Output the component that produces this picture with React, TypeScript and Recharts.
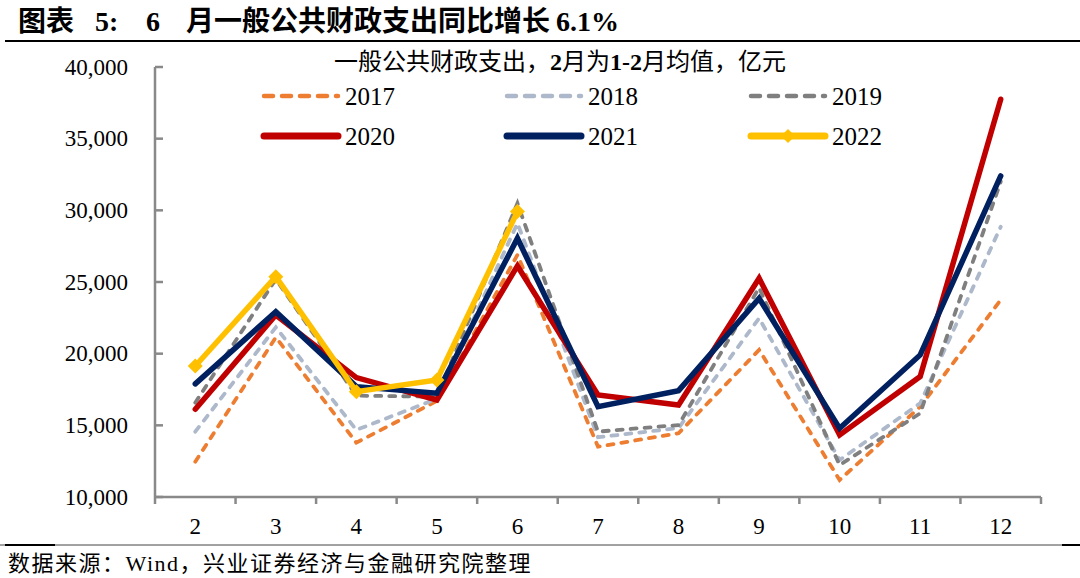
import React from 'react';
import { LineChart, Line, XAxis, YAxis } from 'recharts';

const months = [2, 3, 4, 5, 6, 7, 8, 9, 10, 11, 12];
const v2017 = [12460, 21140, 13790, 16700, 26890, 13510, 14450, 20260, 11190, 16300, 23750];
const v2018 = [14560, 21840, 14680, 16850, 29100, 14170, 14810, 22470, 12580, 16540, 28860];
const v2019 = [16580, 25200, 17070, 17000, 30490, 14560, 15020, 24600, 12230, 15840, 32000];
const v2020 = [16120, 22700, 18330, 16770, 26120, 17120, 16420, 25260, 14330, 18400, 37750];
const v2021 = [17890, 22930, 17700, 17240, 28050, 16300, 17420, 23860, 14790, 19910, 32400];
const v2022 = [19140, 25370, 17350, 18160, 29910];
const yTicks = [10000, 15000, 20000, 25000, 30000, 35000, 40000];

const titleParts = ['图表', '5:', '6', '月一般公共财政支出同比增长', '6.1%'];
const sourceText = '数据来源：Wind，兴业证券经济与金融研究院整理';

const seriesKeys = ['y2017', 'y2018', 'y2019', 'y2020', 'y2021', 'y2022'];
const seriesNames = ['2017', '2018', '2019', '2020', '2021', '2022'];
const seriesColors = ['#ED7D31', '#ADB9CA', '#7F7F7F', '#C00000', '#002060', '#FFC000'];
const seriesDashed = [true, true, true, false, false, false];

const data = months.map((m, i) => ({
  m,
  y2017: v2017[i],
  y2018: v2018[i],
  y2019: v2019[i],
  y2020: v2020[i],
  y2021: v2021[i],
  y2022: i < v2022.length ? v2022[i] : null,
}));

const boundaries = months.map((m) => m - 0.5).concat([months[months.length - 1] + 0.5]);
const xDomain: [number, number] = [boundaries[0], boundaries[boundaries.length - 1]];
const allXTicks = boundaries.concat(months).sort((a, b) => a - b);

const SERIF = '"Liberation Serif", "Times New Roman", "Noto Sans CJK SC", serif';
const AXIS = '#898989';

const Diamond = (props: any) => {
  const { cx, cy, payload } = props;
  if (cx == null || cy == null || payload == null || payload.y2022 == null) return null;
  const r = 7.5;
  return (
    <path
      d={`M${cx},${cy - r} L${cx + r},${cy} L${cx},${cy + r} L${cx - r},${cy} Z`}
      fill="#FFC000"
    />
  );
};

const YTick = (props: any) => {
  const { x, y, payload } = props;
  return (
    <g>
      <line x1={x + 27} x2={x + 35} y1={y} y2={y} stroke={AXIS} strokeWidth={2.5} />
      <text
        x={x}
        y={y}
        textAnchor="end"
        dominantBaseline="central"
        style={{ fontFamily: SERIF, fontSize: 23 }}
        fill="#000"
      >
        {Number(payload.value).toLocaleString('en-US')}
      </text>
    </g>
  );
};

const XTick = (props: any) => {
  const { x, y, payload } = props;
  const v = Number(payload.value);
  if (Number.isInteger(v)) {
    return (
      <text x={x} y={y + 21} textAnchor="middle" dy="0.71em" style={{ fontFamily: SERIF, fontSize: 23 }} fill="#000">
        {v}
      </text>
    );
  }
  return <line x1={x} x2={x} y1={y} y2={y + 7} stroke={AXIS} strokeWidth={2.5} />;
};

const legendCols = [262, 505, 749];
const legendRows = [96, 136];
const titleX = [18, 95, 146, 186, 556];

export default function App() {
  return (
    <div style={{ position: 'absolute', left: 0, top: 0, width: 1080, height: 578, background: '#fff' }}>
      <LineChart
        width={1080}
        height={578}
        data={data}
        margin={{ top: 67, right: 39, bottom: 30, left: 95 }}
      >
        <XAxis
          type="number"
          dataKey="m"
          domain={xDomain}
          ticks={allXTicks}
          interval={0}
          tick={<XTick />}
          tickSize={0}
          tickMargin={0}
          height={51}
          axisLine={{ stroke: AXIS, strokeWidth: 2.5 }}
          tickLine={false}
        />
        <YAxis
          type="number"
          domain={[10000, 40000]}
          ticks={yTicks}
          width={60}
          tickSize={0}
          tickMargin={27}
          tick={<YTick />}
          axisLine={{ stroke: AXIS, strokeWidth: 2.5 }}
          tickLine={false}
        />
        {seriesKeys.map((k, i) => (
          <Line
            key={k}
            type="linear"
            dataKey={k}
            stroke={seriesColors[i]}
            strokeWidth={seriesDashed[i] ? 3.8 : 5.5}
            strokeDasharray={seriesDashed[i] ? '6 8' : undefined}
            strokeLinecap="round"
            strokeLinejoin="miter"
            dot={k === 'y2022' ? <Diamond /> : false}
            activeDot={false}
            isAnimationActive={false}
            connectNulls={false}
          />
        ))}
      </LineChart>
      <svg
        width={1080}
        height={578}
        style={{ position: 'absolute', left: 0, top: 0, pointerEvents: 'none' }}
      >
        <text y={31} style={{ fontFamily: SERIF, fontSize: 28, fontWeight: 'bold' }} fill="#000">
          {titleParts.map((p, i) => (
            <tspan key={i} x={titleX[i]}>
              {p}
            </tspan>
          ))}
        </text>
        <line x1={5} x2={1080} y1={41} y2={41} stroke="#000" strokeWidth={2} />
        <text x={560} y={70} textAnchor="middle" style={{ fontFamily: SERIF, fontSize: 24 }} fill="#000">
          <tspan>一般公共财政支出，</tspan>
          <tspan fontWeight="bold">2</tspan>
          <tspan>月为</tspan>
          <tspan fontWeight="bold">1-2</tspan>
          <tspan>月均值，亿元</tspan>
        </text>
        {seriesNames.map((name, i) => {
          const lx = legendCols[i % 3];
          const ly = legendRows[Math.floor(i / 3)];
          return (
            <g key={name}>
              <line
                x1={lx + 2}
                x2={lx + 76}
                y1={ly}
                y2={ly}
                stroke={seriesColors[i]}
                strokeWidth={seriesDashed[i] ? 4.5 : 7}
                strokeDasharray={seriesDashed[i] ? '9 9' : undefined}
                strokeLinecap="round"
              />
              {name === '2022' ? (
                <path
                  d={`M${lx + 39},${ly - 7} L${lx + 46},${ly} L${lx + 39},${ly + 7} L${lx + 32},${ly} Z`}
                  fill="#FFC000"
                />
              ) : null}
              <text
                x={lx + 83}
                y={ly}
                dominantBaseline="central"
                style={{ fontFamily: SERIF, fontSize: 25 }}
                fill="#000"
              >
                {name}
              </text>
            </g>
          );
        })}
        <line x1={0} x2={1080} y1={545} y2={545} stroke="#444" strokeWidth={1} />
        <line x1={5} x2={55} y1={545} y2={545} stroke="#000" strokeWidth={2} />
        <line x1={1062} x2={1080} y1={545} y2={545} stroke="#000" strokeWidth={2} />
        <text x={8} y={571} style={{ fontFamily: SERIF, fontSize: 22, letterSpacing: 1.5 }} fill="#000">
          {sourceText}
        </text>
      </svg>
    </div>
  );
}
